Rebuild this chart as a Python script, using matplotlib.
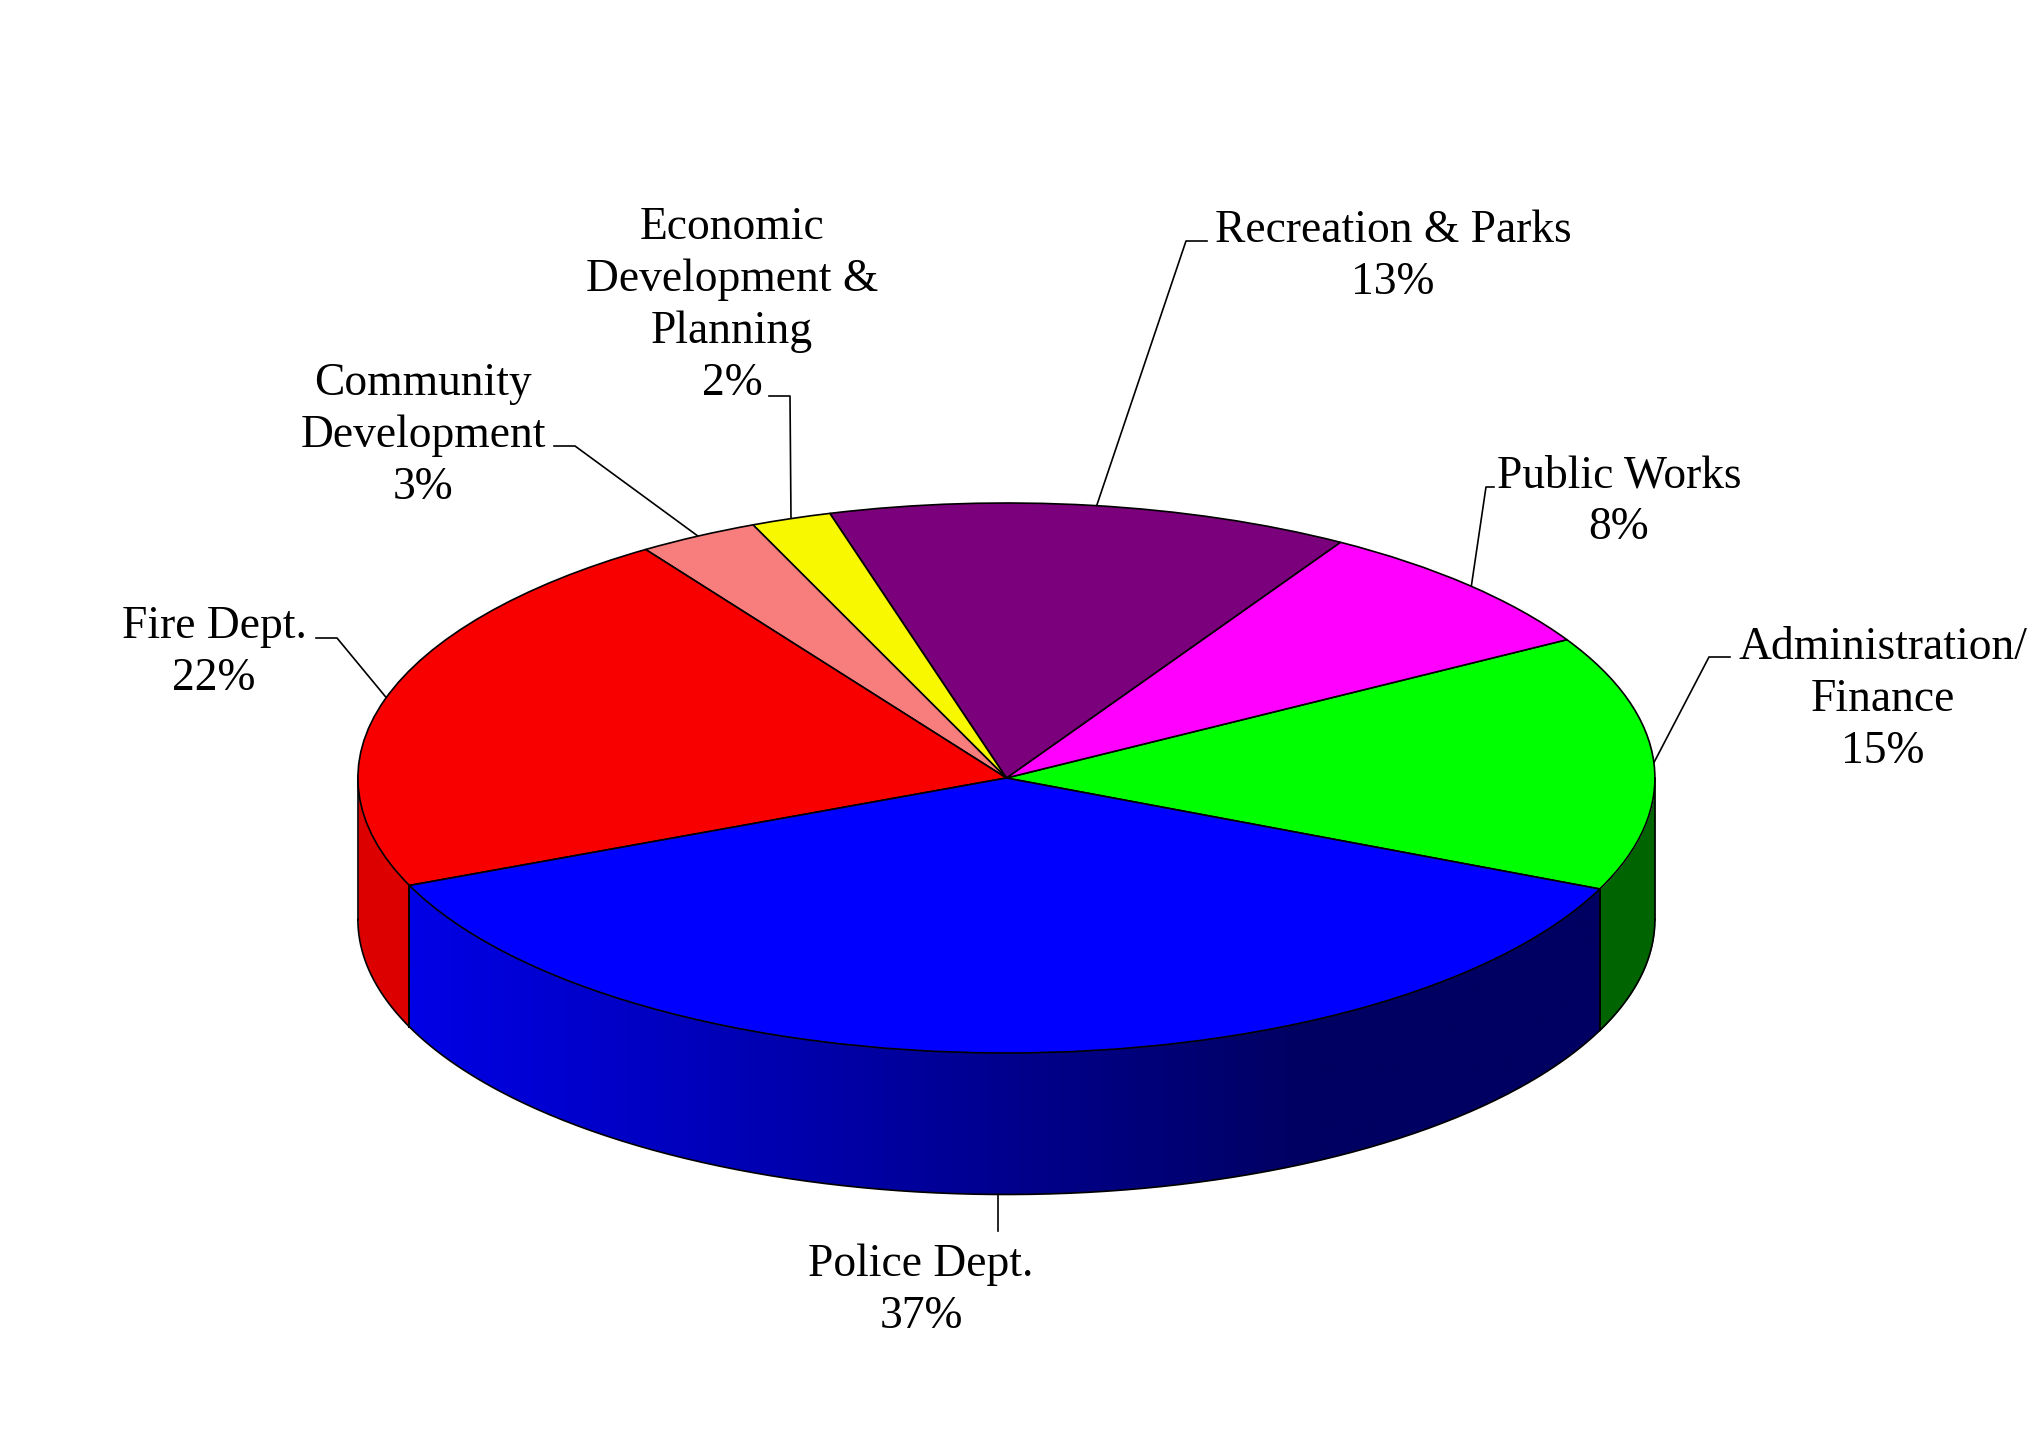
import numpy as np
import matplotlib
matplotlib.use('Agg')
import matplotlib.pyplot as plt
from matplotlib.patches import Polygon

# pie values, counter-clockwise starting at the right hand front edge
names = ['Administration/\nFinance', 'Public Works', 'Recreation & Parks',
         'Economic\nDevelopment &\nPlanning', 'Community\nDevelopment',
         'Fire Dept.', 'Police Dept.']
percent = [15, 8, 13, 2, 3, 22, 37]
top_colors = ['#00FF00', '#FF00FF', '#7B007B', '#F8F800', '#F87E7E', '#F80000', '#0000FF']
side_colors = ['#006400', '#A000A0', '#500050', '#A0A000', '#A05050', '#DC0000', None]

start_angle = -23.8

# layout in pixels
W, H = 2043, 1445
cx, cy, rx, ry, depth = 1006.4, 778, 648.5, 275, 141.5
lw = 1.2

plt.rcParams['font.family'] = ['Liberation Serif', 'DejaVu Serif']

fig = plt.figure(figsize=(W / 100, H / 100), dpi=100, facecolor='white')
ax = fig.add_axes([0, 0, 1, 1])

ax.pie(percent, colors=top_colors, startangle=start_angle, radius=1,
       wedgeprops=dict(edgecolor='black', linewidth=lw, zorder=5))
ax.set_aspect('auto')
limits_x = (-cx / rx, (W - cx) / rx)
limits_y = ((cy - H) / ry, cy / ry)

d = depth / ry
edges = start_angle + np.cumsum([0] + percent) * 3.6

# side of the police slice goes from bright on the left to dark on the right
grad_x = np.linspace(-1, 1, 600)
t = np.clip((grad_x + 0.9) / 1.36, 0, 1)
grad = np.zeros((1, 600, 3))
grad[0, :, 2] = (228 - 130 * t) / 255

# side walls
for i in range(len(percent)):
    a0, a1 = edges[i], edges[i + 1]
    # only the part on the front half of the disc shows
    spans = [(max(a0, 180), min(a1, 360)), (max(a0, -180), min(a1, 0))]
    for lo, hi in spans:
        if hi <= lo:
            continue
        th = np.radians(np.linspace(lo, hi, 240))
        x, y = np.cos(th), np.sin(th)
        if side_colors[i] is None:
            wall = Polygon(np.r_[np.c_[x, y], np.c_[x, y - d][::-1]], closed=True,
                           facecolor='none', edgecolor='none', transform=ax.transData)
            ax.add_patch(wall)
            img = ax.imshow(grad, extent=[-1, 1, -3, 3], aspect='auto', zorder=1)
            img.set_clip_path(wall)
        else:
            ax.fill_between(x, y, y - d, color=side_colors[i], linewidth=0, zorder=1)
        ax.plot(x, y - d, color='black', lw=lw, zorder=3)
        for v in (th[0], th[-1]):
            ax.plot([np.cos(v)] * 2, [np.sin(v), np.sin(v) - d], color='black', lw=lw, zorder=3)

ax.set_xlim(*limits_x)
ax.set_ylim(*limits_y)
ax.axis('off')


def to_data(px, py):
    return (px - cx) / rx, (cy - py) / ry


# label centres and leader line elbows, in pixels
label_xy = [(1883, 700), (1619, 502), (1393, 257), (732, 306), (423, 436), (214, 653), (921, 1291)]
leader_start = [(1730, 657), (1494, 487), (1207, 241), (769, 396), (554, 446), (316, 638), None]
leader_elbow = [(1709, 657), (1486, 487), (1186, 241), (790, 396), (575, 446), (337, 638), None]
leader_angle = [3.2, 44.2, 82, 109.4, 118.4, 163, None]

for i, name in enumerate(names):
    lx, ly = to_data(*label_xy[i])
    ax.text(lx, ly, f'{name}\n{percent[i]}%', ha='center', va='center', fontsize=32.8,
            linespacing=1.29, color='black', zorder=6)
    if leader_start[i] is None:
        continue
    th = np.radians(leader_angle[i])
    p0 = to_data(*leader_start[i])
    p1 = to_data(*leader_elbow[i])
    ax.plot([p0[0], p1[0], np.cos(th)], [p0[1], p1[1], np.sin(th)], color='black', lw=lw, zorder=4)

# police leader hangs from the bottom of the side wall
px, py = to_data(1003, 1231)
th = np.radians(269.3)
ax.plot([np.cos(th), np.cos(th)], [np.sin(th) - d, py], color='black', lw=lw, zorder=4)

fig.savefig('out.png', dpi=100)
